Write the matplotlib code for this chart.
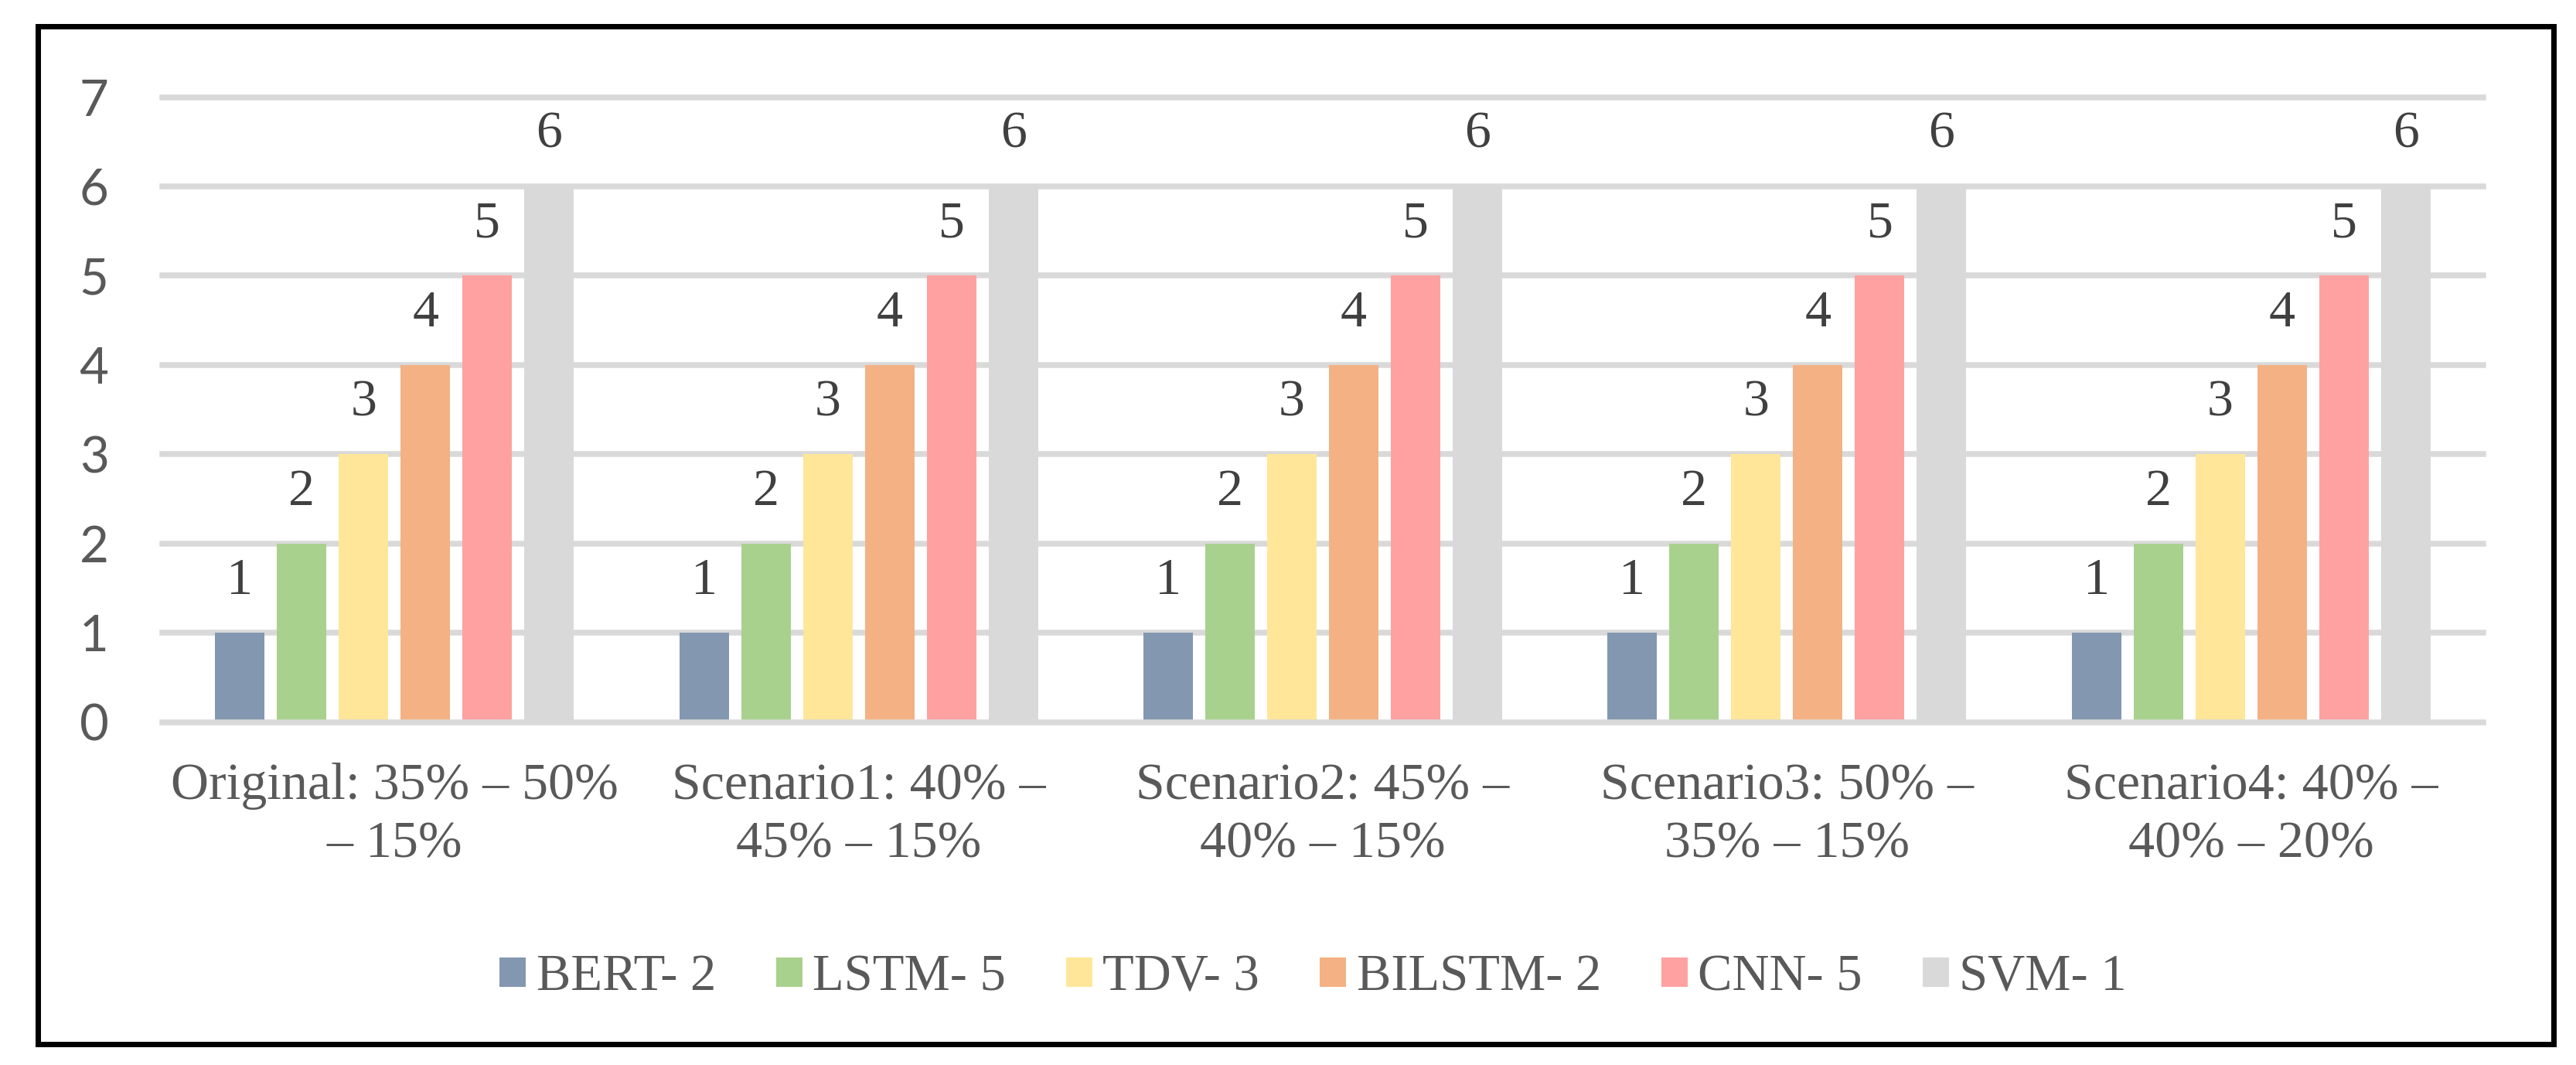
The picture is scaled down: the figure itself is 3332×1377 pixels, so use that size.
import matplotlib
matplotlib.use("Agg")
import matplotlib.pyplot as plt
import numpy as np
from matplotlib.patches import Rectangle

# data
scenarios = ["Original: 35% \u2013 50%\n\u2013 15%",
             "Scenario1: 40% \u2013\n45% \u2013 15%",
             "Scenario2: 45% \u2013\n40% \u2013 15%",
             "Scenario3: 50% \u2013\n35% \u2013 15%",
             "Scenario4: 40% \u2013\n40% \u2013 20%"]
series = ["BERT- 2", "LSTM- 5", "TDV- 3", "BILSTM- 2", "CNN- 5", "SVM- 1"]
bert = [1, 1, 1, 1, 1]
lstm = [2, 2, 2, 2, 2]
tdv = [3, 3, 3, 3, 3]
bilstm = [4, 4, 4, 4, 4]
cnn = [5, 5, 5, 5, 5]
svm = [6, 6, 6, 6, 6]
yticks = [0, 1, 2, 3, 4, 5, 6, 7]

values = [bert, lstm, tdv, bilstm, cnn, svm]
colors = ["#8497B0", "#A9D18E", "#FFE699", "#F4B183", "#FFA1A1", "#D9D9D9"]

W, H = 3332, 1377
fig = plt.figure(figsize=(W / 100, H / 100), dpi=100)
fig.patch.set_facecolor("white")

ax = fig.add_axes([210 / W, 1 - 933.5 / H, 3002 / W, (933.5 - 125.5) / H])
for s in ax.spines.values():
    s.set_visible(False)

x = np.arange(len(scenarios))
step = 80 / 600.4
bw = 64 / 600.4
serif = "Liberation Serif"

for j, (name, vals, c) in enumerate(zip(series, values, colors)):
    xs = x + (j - 2.5) * step
    ax.bar(xs, vals, width=bw, color=c, label=name, zorder=2)
    for xi, v in zip(xs, vals):
        ax.annotate(str(v), (xi, v), xytext=(0, 36), textcoords="offset points",
                    ha="center", va="baseline", fontsize=49, family=serif,
                    color="#404040", annotation_clip=False)

ax.set_xlim(-0.5, len(scenarios) - 0.5)
ax.set_ylim(0, 7)
ax.set_yticks(yticks)
ax.set_yticklabels([str(t) for t in yticks], fontsize=47, family="Lato", color="#595959")
ax.set_xticks(x)
ax.set_xticklabels(scenarios, fontsize=49, family=serif, color="#595959", linespacing=1.3)
ax.tick_params(axis="both", length=0)
ax.tick_params(axis="y", pad=50)
ax.tick_params(axis="x", pad=38)

for t in yticks[1:]:
    ax.axhline(t, color="#D9D9D9", lw=5.4, zorder=1, clip_on=False)
ax.axhline(0, color="#D9D9D9", lw=5.4, zorder=3, clip_on=False)

leg = fig.legend(loc="center", bbox_to_anchor=(1698.5 / W, 1 - 1264 / H), ncol=6,
                 frameon=False, prop={"family": serif, "size": 48},
                 handlelength=0.51, handleheight=0.51, handletextpad=0.2,
                 columnspacing=1.17)
for t in leg.get_texts():
    t.set_color("#595959")

# outer frame
fig.patches.append(Rectangle((48.5 / W, 1 - 1349.5 / H), (3303 - 48.5) / W, (1349.5 - 33.5) / H,
                             transform=fig.transFigure, fill=False, edgecolor="black",
                             linewidth=5.04, zorder=10))

fig.savefig("out.png", dpi=100)
